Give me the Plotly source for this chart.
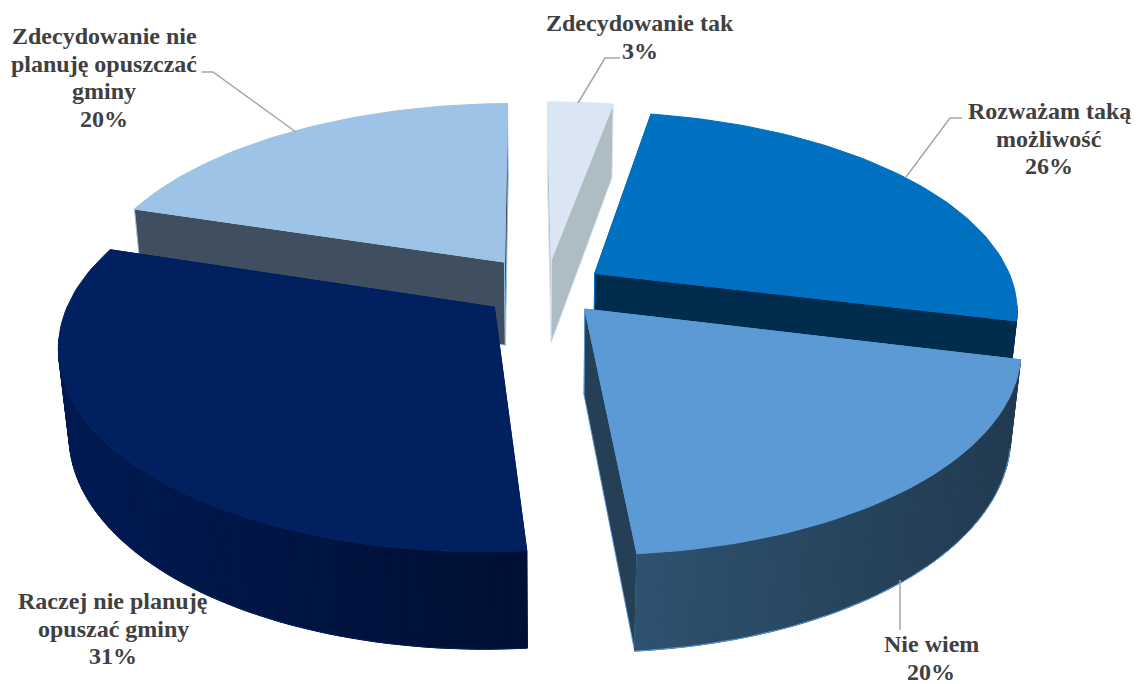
import numpy as np
import plotly.graph_objects as go

# Data
categories = ["Zdecydowanie tak", "Rozważam taką możliwość", "Nie wiem",
              "Raczej nie planuję opuszać gminy", "Zdecydowanie nie planuję opuszczać gminy"]
shares = [3, 26, 19.8, 31.2, 20]
label_text = [["Zdecydowanie tak", "3%"], ["Rozważam taką", "możliwość", "26%"], ["Nie wiem", "20%"],
              ["Raczej nie planuję", "opuszać gminy", "31%"],
              ["Zdecydowanie nie", "planuję opuszczać", "gminy", "20%"]]
label_x = [640, 1049, 931, 113, 104]
label_y = [23, 111, 644, 601, 36]
line_step = 27.7

# Styles
top_colors = ["#dae6f3", "#0070c0", "#5b9ad5", "#002060", "#9dc3e6"]
cut_colors = ["#aebcc4", "#002c4d", "#243f56", "#001a4d", "#404f5f"]
side_left = ["#aebcc4", "#002c4d", "#2e5270", "#001a52", "#404f5f"]
side_right = ["#aebcc4", "#002c4d", "#223a50", "#000f33", "#404f5f"]
explode = [0.15, 0.14, 0.14, 0.155, 0.17]
draw_order = [0, 4, 1, 3, 2]

# Leader lines (x0, y0, x1, y1, x2, y2)
leaders = [(578, 103, 605, 58, 620, 58), (906, 177, 950, 118, 962, 118),
           (900, 580, 900, 605, 900, 630), (296, 132, 213, 72, 202, 72)]

# Camera
cx, cy = 546, 288
R = 420
sin_t, cos_t = 0.463, 0.886
dist = 5.07
thick = 0.232
rotation = np.radians(-0.5)


def project(x, y, z):
    w = dist + y * cos_t - z * sin_t
    k = dist / w
    return cx + R * x * k, cy - R * (y * sin_t + z * cos_t) * k


def hex_mix(a, b, t):
    ca = [int(a[i:i + 2], 16) for i in (1, 3, 5)]
    cb = [int(b[i:i + 2], 16) for i in (1, 3, 5)]
    return "rgb(%d,%d,%d)" % tuple(round(p + (q - p) * t) for p, q in zip(ca, cb))


def poly(xs, ys, fill, line=None, width=1):
    return go.Scatter(x=list(xs), y=list(ys), mode="lines", fill="toself", fillcolor=fill,
                      line=dict(color=line or fill, width=width), hoverinfo="skip", showlegend=False)


fig = go.Figure()
edges = np.cumsum([0] + shares) / sum(shares) * 2 * np.pi + rotation

for i in draw_order:
    a0, a1 = edges[i], edges[i + 1]
    mid = (a0 + a1) / 2
    ox, oy = explode[i] * np.sin(mid), explode[i] * np.cos(mid)
    ang = np.linspace(a0, a1, max(int((a1 - a0) * 40), 8))
    rx, ry = ox + np.sin(ang), oy + np.cos(ang)

    # cut faces
    for a in (a0, a1):
        ex, ey = ox + np.sin(a), oy + np.cos(a)
        pts = [project(ox, oy, 0), project(ex, ey, 0), project(ex, ey, -thick), project(ox, oy, -thick)]
        fig.add_trace(poly([p[0] for p in pts] + [pts[0][0]], [p[1] for p in pts] + [pts[0][1]],
                           cut_colors[i], top_colors[i]))

    # outer wall, thin strips for the gradient, only the part facing us
    tx, ty = project(rx, ry, 0)
    bx, by = project(rx, ry, -thick)
    front = np.cos(ang) < -0.15
    if front.any():
        lo, hi = tx[front].min(), tx[front].max()
        for j in range(len(ang) - 1):
            if front[j] and front[j + 1]:
                t = (tx[j] - lo) / max(hi - lo, 1)
                c = hex_mix(side_left[i], side_right[i], t)
                fig.add_trace(poly([tx[j], tx[j + 1], bx[j + 1], bx[j], tx[j]],
                                   [ty[j], ty[j + 1], by[j + 1], by[j], ty[j]], c, c, 1))
        fig.add_trace(go.Scatter(x=bx[front], y=by[front], mode="lines", line=dict(color=top_colors[i], width=1),
                                 hoverinfo="skip", showlegend=False))

    # top face
    ax, ay = project(ox, oy, 0)
    fig.add_trace(poly(np.r_[ax, tx, ax], np.r_[ay, ty, ay], top_colors[i]))

for seg in leaders:
    fig.add_trace(go.Scatter(x=list(seg[0::2]), y=list(seg[1::2]), mode="lines",
                             line=dict(color="#a6a6a6", width=1.5), hoverinfo="skip", showlegend=False))

for lines, lx, ly in zip(label_text, label_x, label_y):
    for n, txt in enumerate(lines):
        fig.add_annotation(x=lx, y=ly + n * line_step, text=txt, showarrow=False, xanchor="center", yanchor="middle",
                           font=dict(family="Liberation Serif", size=24, color="#404040", weight="bold"))

fig.update_xaxes(range=[0, 1136], visible=False, fixedrange=True)
fig.update_yaxes(range=[684, 0], visible=False, fixedrange=True)
fig.update_layout(width=1136, height=684, margin=dict(l=0, r=0, t=0, b=0),
                  plot_bgcolor="white", paper_bgcolor="white", showlegend=False)

fig.write_html("out.html", config=dict(displayModeBar=False), post_script="document.body.style.margin='0';")
